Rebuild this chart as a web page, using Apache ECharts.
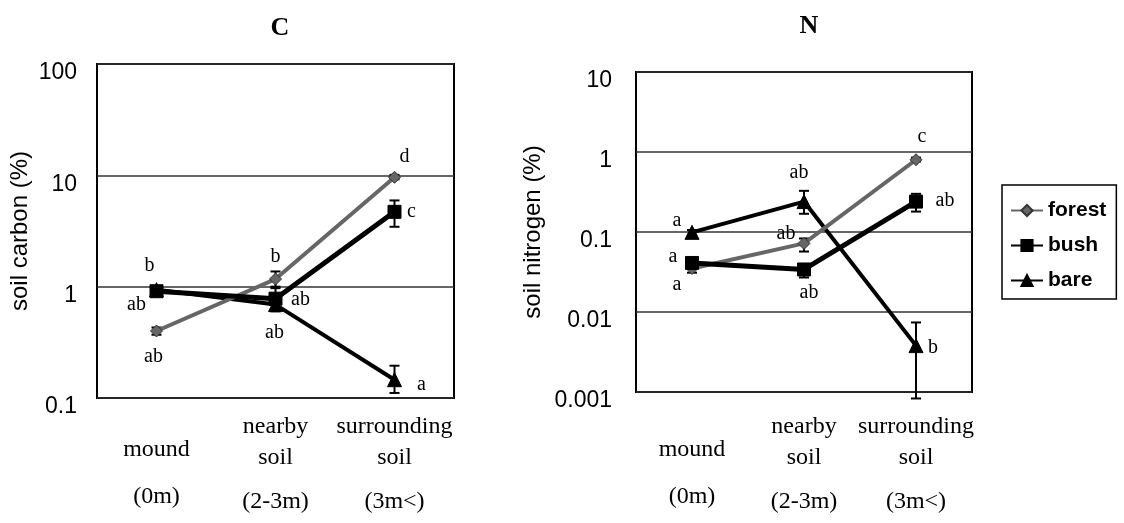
<!DOCTYPE html>
<html>
<head>
<meta charset="utf-8">
<script src="https://cdn.jsdelivr.net/npm/echarts@6/dist/echarts.min.js"></script>
<style>
  html, body { margin: 0; padding: 0; background: #fff; }
  #chart { width: 1124px; height: 523px; }
</style>
</head>
<body>
<div id="chart"></div>
<script>
// 横轴分组
const categories = ['mound', 'nearby soil', 'surrounding soil'];
const distances = ['(0m)', '(2-3m)', '(3m<)'];
const seriesNames = ['forest', 'bush', 'bare'];

// C: soil carbon (%)
const carbonForest = [0.4, 1.17, 9.6];
const carbonBush = [0.91, 0.78, 4.7];
const carbonBare = [0.94, 0.69, 0.146];
const carbonForestLo = [0.37, 1.0, 9.2];
const carbonForestHi = [0.43, 1.37, 10.1];
const carbonBushLo = [0.84, 0.62, 3.45];
const carbonBushHi = [0.98, 0.97, 5.95];
const carbonBareLo = [0.88, 0.6, 0.111];
const carbonBareHi = [1.0, 0.8, 0.195];
const carbonForestLetters = ['ab', 'b', 'd'];
const carbonBushLetters = ['b', 'ab', 'c'];
const carbonBareLetters = ['ab', 'ab', 'a'];

// N: soil nitrogen (%)
const nitrogenForest = [0.035, 0.072, 0.8];
const nitrogenBush = [0.041, 0.034, 0.24];
const nitrogenBare = [0.099, 0.24, 0.0038];
const nitrogenForestLo = [0.031, 0.057, 0.76];
const nitrogenForestHi = [0.039, 0.083, 0.85];
const nitrogenBushLo = [0.037, 0.027, 0.18];
const nitrogenBushHi = [0.045, 0.039, 0.30];
const nitrogenBareLo = [0.092, 0.169, 0.00083];
const nitrogenBareHi = [0.106, 0.327, 0.0074];
const nitrogenForestLetters = ['a', 'ab', 'c'];
const nitrogenBushLetters = ['a', 'ab', 'ab'];
const nitrogenBareLetters = ['a', 'ab', 'b'];

// 字母标注的偏移 (样式)
const offsets = {
  carbon: {
    forest: [[-3, 26], [0, -22], [10, -21]],
    bush: [[-7, -25], [25, 1], [17, 0]],
    bare: [[-20, 15], [-1, 28], [27, 5]]
  },
  nitrogen: {
    forest: [[-15, 16], [-18, -10], [6, -23]],
    bush: [[-19, -6], [5, 23], [29, -1]],
    bare: [[-15, -12], [-5, -29], [17, 2]]
  }
};

const serif = '"Liberation Serif", "DejaVu Serif", serif';
const sans = '"Liberation Sans", Arial, sans-serif';

const looks = {
  forest: { symbol: 'diamond', symbolSize: 12, color: '#666', border: '#333', width: 4, z: 3 },
  bush: { symbol: 'rect', symbolSize: 13, color: '#000', border: '#000', width: 5, z: 4 },
  bare: { symbol: 'triangle', symbolSize: 14, color: '#000', border: '#000', width: 4, z: 2 }
};

function lineSeries(name, gridIdx, values, letters, offs) {
  const lk = looks[name];
  return {
    name: name,
    type: 'line',
    xAxisIndex: gridIdx,
    yAxisIndex: gridIdx,
    symbol: lk.symbol,
    symbolSize: lk.symbolSize,
    z: lk.z,
    lineStyle: { color: lk.color, width: lk.width },
    itemStyle: { color: lk.color, borderColor: lk.border, borderWidth: 1 },
    emphasis: { disabled: true },
    data: values.map(function (v, i) {
      return {
        value: v,
        label: {
          show: true,
          position: 'inside',
          formatter: letters[i],
          offset: offs[i],
          color: '#000',
          fontFamily: serif,
          fontSize: 20
        }
      };
    })
  };
}

function errorSeries(gridIdx, lo, hi) {
  return {
    type: 'custom',
    xAxisIndex: gridIdx,
    yAxisIndex: gridIdx,
    z: 1,
    silent: true,
    encode: { x: 0, y: [1, 2] },
    data: lo.map(function (l, i) { return [i, l, hi[i]]; }),
    renderItem: function (params, api) {
      const a = api.coord([api.value(0), api.value(1)]);
      const b = api.coord([api.value(0), api.value(2)]);
      const cap = 5;
      const st = { stroke: '#000', lineWidth: 2 };
      return {
        type: 'group',
        children: [
          { type: 'line', shape: { x1: a[0], y1: a[1], x2: b[0], y2: b[1] }, style: st },
          { type: 'line', shape: { x1: a[0] - cap, y1: a[1], x2: a[0] + cap, y2: a[1] }, style: st },
          { type: 'line', shape: { x1: b[0] - cap, y1: b[1], x2: b[0] + cap, y2: b[1] }, style: st }
        ]
      };
    }
  };
}

function xAxisOf(gridIdx, margin) {
  return {
    type: 'category',
    gridIndex: gridIdx,
    data: categories,
    boundaryGap: true,
    axisLine: { show: false },
    axisTick: { show: false },
    axisLabel: {
      interval: 0,
      margin: margin,
      color: '#000',
      fontFamily: serif,
      fontSize: 24,
      formatter: function (value, idx) {
        const words = value.split(' ');
        if (words.length === 1) {
          return '{one|' + value + '}\n{dm|' + distances[idx] + '}';
        }
        return '{w|' + words[0] + '}\n{w|' + words[1] + '}\n{d|' + distances[idx] + '}';
      },
      rich: {
        one: { fontFamily: serif, fontSize: 24, lineHeight: 77, color: '#000' },
        dm: { fontFamily: serif, fontSize: 24, lineHeight: 17, color: '#000' },
        w: { fontFamily: serif, fontSize: 24, lineHeight: 31, color: '#000' },
        d: { fontFamily: serif, fontSize: 24, lineHeight: 57, color: '#000' }
      }
    }
  };
}

function yAxisOf(gridIdx, min, max, name, nameGap, margin) {
  return {
    type: 'log',
    logBase: 10,
    gridIndex: gridIdx,
    min: min,
    max: max,
    name: name,
    nameLocation: 'middle',
    nameGap: nameGap,
    nameTextStyle: { color: '#000', fontFamily: sans, fontSize: 24 },
    axisLine: { show: false },
    axisTick: { show: false },
    minorTick: { show: false },
    splitLine: { show: true, lineStyle: { color: '#333', width: 1.5 } },
    axisLabel: {
      margin: margin,
      color: '#000',
      fontFamily: sans,
      fontSize: 23,
      verticalAlign: 'top',
      lineHeight: 18,
      formatter: function (v) { return String(+Number(v).toPrecision(4)); }
    }
  };
}

const chart = echarts.init(document.getElementById('chart'), null, { renderer: 'canvas' });

const option = {
  backgroundColor: '#fff',
  animation: false,
  title: [
    { text: 'C', left: 275, top: 10, textAlign: 'center',
      textStyle: { fontFamily: serif, fontSize: 26, fontWeight: 'bold', color: '#000' } },
    { text: 'N', left: 804, top: 8, textAlign: 'center',
      textStyle: { fontFamily: serif, fontSize: 26, fontWeight: 'bold', color: '#000' } }
  ],
  legend: {
    data: seriesNames,
    orient: 'vertical',
    left: 1002,
    top: 185,
    width: 118,
    padding: [15, 10, 8, 8],
    itemWidth: 32,
    itemHeight: 14,
    itemGap: 14,
    borderColor: '#000',
    borderWidth: 1.5,
    backgroundColor: '#fff',
    textStyle: { fontFamily: sans, fontSize: 21, fontWeight: 'bold', color: '#000' }
  },
  grid: [
    { left: 97, right: 670, top: 64, bottom: 125, show: true, borderColor: '#000', borderWidth: 2, backgroundColor: 'transparent' },
    { left: 636, right: 152, top: 72, bottom: 131, show: true, borderColor: '#000', borderWidth: 2, backgroundColor: 'transparent' }
  ],
  xAxis: [xAxisOf(0, 13), xAxisOf(1, 19)],
  yAxis: [
    yAxisOf(0, 0.1, 100, 'soil carbon (%)', 65, 20),
    yAxisOf(1, 0.001, 10, 'soil nitrogen (%)', 91, 24)
  ],
  series: [
    errorSeries(0, carbonForestLo, carbonForestHi),
    errorSeries(0, carbonBushLo, carbonBushHi),
    errorSeries(0, carbonBareLo, carbonBareHi),
    lineSeries('bare', 0, carbonBare, carbonBareLetters, offsets.carbon.bare),
    lineSeries('forest', 0, carbonForest, carbonForestLetters, offsets.carbon.forest),
    lineSeries('bush', 0, carbonBush, carbonBushLetters, offsets.carbon.bush),

    errorSeries(1, nitrogenForestLo, nitrogenForestHi),
    errorSeries(1, nitrogenBushLo, nitrogenBushHi),
    errorSeries(1, nitrogenBareLo, nitrogenBareHi),
    lineSeries('bare', 1, nitrogenBare, nitrogenBareLetters, offsets.nitrogen.bare),
    lineSeries('forest', 1, nitrogenForest, nitrogenForestLetters, offsets.nitrogen.forest),
    lineSeries('bush', 1, nitrogenBush, nitrogenBushLetters, offsets.nitrogen.bush)
  ]
};

chart.setOption(option);
</script>
</body>
</html>
